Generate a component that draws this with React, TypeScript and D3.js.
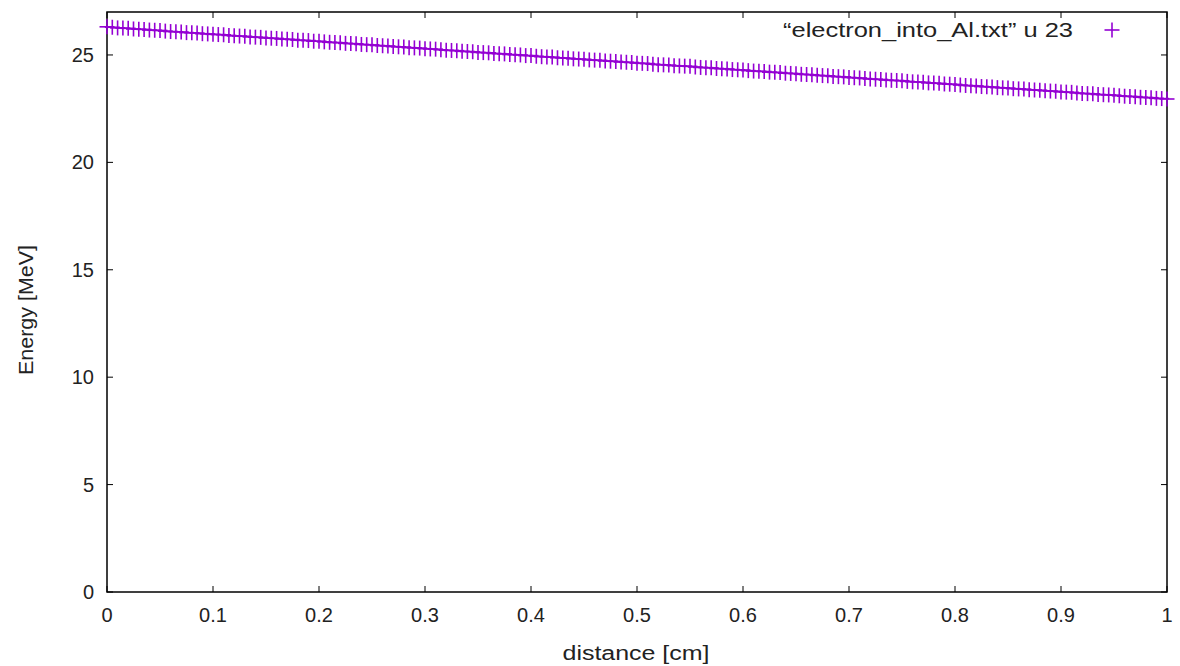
import React, { useEffect, useRef } from "react";
import * as d3 from "d3";

// ---- data ----
const DISTANCE_START = 0; // cm
const DISTANCE_STEP = 0.005; // cm between samples
const energyMeV: number[] = [
  26.31, 26.29, 26.26, 26.25, 26.24, 26.21, 26.2, 26.19, 26.16, 26.15,
  26.14, 26.11, 26.09, 26.08, 26.07, 26.04, 26.03, 26.02, 25.99, 25.98,
  25.96, 25.95, 25.94, 25.91, 25.89, 25.88, 25.87, 25.84, 25.83, 25.82,
  25.79, 25.78, 25.77, 25.74, 25.73, 25.72, 25.69, 25.68, 25.67, 25.64,
  25.64, 25.61, 25.59, 25.58, 25.57, 25.54, 25.53, 25.52, 25.49, 25.48,
  25.47, 25.44, 25.43, 25.42, 25.39, 25.38, 25.37, 25.34, 25.33, 25.32,
  25.29, 25.28, 25.27, 25.24, 25.22, 25.21, 25.2, 25.17, 25.16, 25.15,
  25.12, 25.11, 25.1, 25.07, 25.06, 25.05, 25.02, 25.01, 25.0, 24.97,
  24.97, 24.94, 24.92, 24.91, 24.9, 24.87, 24.86, 24.85, 24.82, 24.81,
  24.8, 24.77, 24.76, 24.75, 24.72, 24.71, 24.7, 24.67, 24.66, 24.65,
  24.62, 24.61, 24.6, 24.57, 24.55, 24.54, 24.53, 24.5, 24.49, 24.48,
  24.47, 24.44, 24.42, 24.41, 24.4, 24.37, 24.36, 24.35, 24.32, 24.31,
  24.3, 24.27, 24.25, 24.24, 24.23, 24.2, 24.19, 24.18, 24.15, 24.14,
  24.13, 24.1, 24.09, 24.08, 24.05, 24.04, 24.03, 24.0, 23.99, 23.98,
  23.95, 23.94, 23.93, 23.9, 23.88, 23.87, 23.86, 23.83, 23.82, 23.81,
  23.8, 23.77, 23.75, 23.74, 23.73, 23.7, 23.69, 23.68, 23.65, 23.64,
  23.63, 23.6, 23.58, 23.57, 23.56, 23.53, 23.52, 23.51, 23.48, 23.47,
  23.46, 23.43, 23.42, 23.41, 23.38, 23.37, 23.36, 23.33, 23.32, 23.31,
  23.28, 23.27, 23.26, 23.23, 23.21, 23.2, 23.19, 23.16, 23.15, 23.14,
  23.13, 23.1, 23.08, 23.07, 23.06, 23.03, 23.02, 23.01, 22.98, 22.97,
  22.95,
];
const xTicks = [0, 0.1, 0.2, 0.3, 0.4, 0.5, 0.6, 0.7, 0.8, 0.9, 1];
const yTicks = [0, 5, 10, 15, 20, 25];
const xDomain: [number, number] = [0, 1];
const yDomain: [number, number] = [0, 27];
const xLabel = "distance [cm]";
const yLabel = "Energy [MeV]";
const legendLabel = "\u201celectron_into_Al.txt\u201d u 23";

const W = 1180;
const H = 666;
const M = { left: 107, right: 1167, top: 12, bottom: 592 };
const COLOR = "#9400d3";
const FONT = "'Liberation Sans', Arial, sans-serif";

export default function App() {
  const ref = useRef<SVGSVGElement | null>(null);

  useEffect(() => {
    document.body.style.margin = "0";
    const svg = d3.select(ref.current);
    svg.selectAll("*").remove();

    const x = d3.scaleLinear().domain(xDomain).range([M.left, M.right]);
    const y = d3.scaleLinear().domain(yDomain).range([M.bottom, M.top]);

    svg.append("rect").attr("width", W).attr("height", H).attr("fill", "#fff");

    const tickLen = 6;
    const g = svg.append("g").attr("font-family", FONT).attr("font-size", 20).attr("fill", "#222");

    // ticks (mirrored, inward)
    xTicks.forEach((t) => {
      const px = x(t);
      g.append("line").attr("x1", px).attr("x2", px).attr("y1", M.bottom).attr("y2", M.bottom - tickLen)
        .attr("stroke", "#000").attr("stroke-width", 1);
      g.append("line").attr("x1", px).attr("x2", px).attr("y1", M.top).attr("y2", M.top + tickLen)
        .attr("stroke", "#000").attr("stroke-width", 1);
      g.append("text").attr("x", px).attr("y", 622).attr("text-anchor", "middle").text(d3.format("~g")(t));
    });
    yTicks.forEach((t) => {
      const py = y(t);
      g.append("line").attr("x1", M.left).attr("x2", M.left + tickLen).attr("y1", py).attr("y2", py)
        .attr("stroke", "#000").attr("stroke-width", 1);
      g.append("line").attr("x1", M.right).attr("x2", M.right - tickLen).attr("y1", py).attr("y2", py)
        .attr("stroke", "#000").attr("stroke-width", 1);
      g.append("text").attr("x", 94).attr("y", py + 7).attr("text-anchor", "end").text(String(t));
    });

    // border
    svg.append("rect").attr("x", M.left).attr("y", M.top)
      .attr("width", M.right - M.left).attr("height", M.bottom - M.top)
      .attr("fill", "none").attr("stroke", "#000").attr("stroke-width", 1.5);

    // axis labels
    g.append("text").attr("x", 636).attr("y", 660).attr("text-anchor", "middle")
      .attr("textLength", 147).attr("lengthAdjust", "spacingAndGlyphs").text(xLabel);
    g.append("text").attr("transform", `translate(33,310) rotate(-90)`)
      .attr("text-anchor", "middle")
      .attr("textLength", 130).attr("lengthAdjust", "spacingAndGlyphs").text(yLabel);

    // data markers (+)
    const arm = 7.5;
    const pts = energyMeV.map((e, i) => ({ d: DISTANCE_START + i * DISTANCE_STEP, e }));
    const pg = svg.append("g").attr("stroke", COLOR).attr("stroke-width", 1.6);
    pts.forEach((p) => {
      const px = x(p.d);
      const py = y(p.e);
      pg.append("line").attr("x1", px - arm).attr("x2", px + arm).attr("y1", py).attr("y2", py);
      pg.append("line").attr("x1", px).attr("x2", px).attr("y1", py - arm).attr("y2", py + arm);
    });

    // legend
    g.append("text").attr("x", 783).attr("y", 37).attr("text-anchor", "start")
      .attr("textLength", 290).attr("lengthAdjust", "spacingAndGlyphs").text(legendLabel);
    const lx = 1112, ly = 30;
    pg.append("line").attr("x1", lx - arm).attr("x2", lx + arm).attr("y1", ly).attr("y2", ly);
    pg.append("line").attr("x1", lx).attr("x2", lx).attr("y1", ly - arm).attr("y2", ly + arm);
  }, []);

  return <svg ref={ref} width={W} height={H} style={{ display: "block" }} />;
}
